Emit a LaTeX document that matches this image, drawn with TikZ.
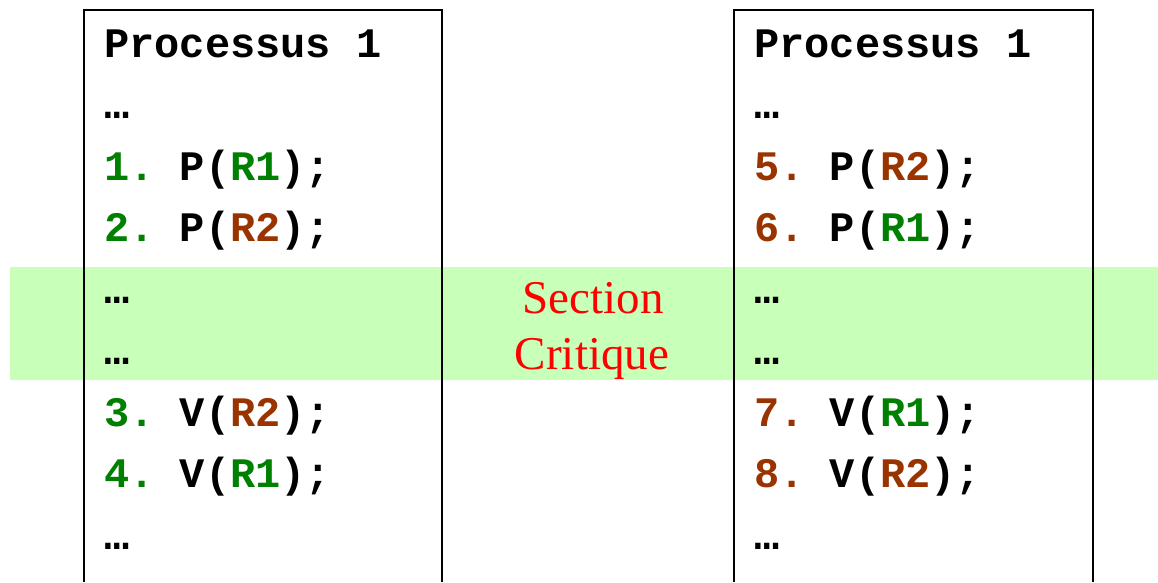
\documentclass[tikz,border=0pt]{standalone}
\usepackage{fontspec}
\setmainfont{Liberation Serif}
\setmonofont{Liberation Mono}
\definecolor{resgreen}{RGB}{0,128,0}
\definecolor{resbrown}{RGB}{153,51,0}
\definecolor{critband}{RGB}{200,255,185}
\newcommand\resG[1]{\textcolor{resgreen}{#1}}
\newcommand\resB[1]{\textcolor{resbrown}{#1}}
\begin{document}
\begin{tikzpicture}[x=1pt,y=-1pt,
  codeline/.style={anchor=base west, inner sep=0pt,
    font=\fontsize{42}{42}\selectfont\ttfamily\bfseries},
  frame/.style={line width=2pt, line cap=butt, line join=miter},
  critlabel/.style={anchor=base, inner sep=0pt, text=red,
    font=\fontsize{47}{47}\selectfont\rmfamily}]
\useasboundingbox (0,0) rectangle (1158,582);

% critical section band
\fill[critband] (10,267) rectangle (1158,380);

% process frames (open at the bottom)
\draw[frame] (84,582) -- (84,10) -- (442,10) -- (442,582);
\draw[frame] (734,582) -- (734,10) -- (1093,10) -- (1093,582);

% first process
\node[codeline] (a0) at (104,57)    {Processus 1};
\node[codeline] (a1) at (104,118.5) {…};
\node[codeline] (a2) at (104,180)   {\resG{1.} P(\resG{R1});};
\node[codeline] (a3) at (104,241.5) {\resG{2.} P(\resB{R2});};
\node[codeline] (a4) at (104,303)   {…};
\node[codeline] (a5) at (104,364.5) {…};
\node[codeline] (a6) at (104,426)   {\resG{3.} V(\resB{R2});};
\node[codeline] (a7) at (104,487.5) {\resG{4.} V(\resG{R1});};
\node[codeline] (a8) at (104,549)   {…};

% second process
\node[codeline] (b0) at (754,57)    {Processus 1};
\node[codeline] (b1) at (754,118.5) {…};
\node[codeline] (b2) at (754,180)   {\resB{5.} P(\resB{R2});};
\node[codeline] (b3) at (754,241.5) {\resB{6.} P(\resG{R1});};
\node[codeline] (b4) at (754,303)   {…};
\node[codeline] (b5) at (754,364.5) {…};
\node[codeline] (b6) at (754,426)   {\resB{7.} V(\resG{R1});};
\node[codeline] (b7) at (754,487.5) {\resB{8.} V(\resB{R2});};
\node[codeline] (b8) at (754,549)   {…};

% label of the band
\node[critlabel] (sec) at (593,313) {Section};
\node[critlabel] (crit) at (592,369) {Critique};
\end{tikzpicture}
\end{document}
